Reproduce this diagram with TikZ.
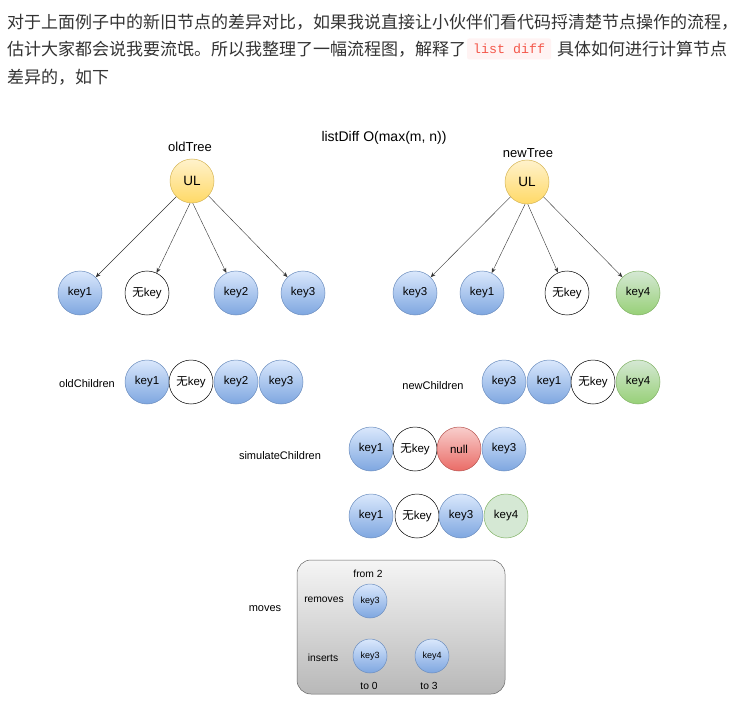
\documentclass[tikz,border=0pt]{standalone}
\usepackage{fontspec}
\setmainfont{Liberation Sans}
\newfontfamily\cjk{Noto Sans CJK SC}
\newfontfamily\codefont{Liberation Mono}
\usetikzlibrary{arrows.meta}
\definecolor{paratext}{HTML}{333333}
\definecolor{codebg}{HTML}{FFF3F3}
\definecolor{codered}{HTML}{F4584B}
\definecolor{bluetop}{HTML}{DAE8FC}
\definecolor{bluebot}{HTML}{7EA6E0}
\definecolor{blueline}{HTML}{6C8EBF}
\definecolor{yellowtop}{HTML}{FFF2CC}
\definecolor{yellowbot}{HTML}{FFD966}
\definecolor{yellowline}{HTML}{D6B656}
\definecolor{greentop}{HTML}{D5E8D4}
\definecolor{greenbot}{HTML}{97D077}
\definecolor{greenline}{HTML}{82B366}
\definecolor{redtop}{HTML}{F8CECC}
\definecolor{redbot}{HTML}{EA6B66}
\definecolor{redline}{HTML}{B85450}
\definecolor{graytop}{HTML}{F5F5F5}
\definecolor{graybot}{HTML}{B8B8B8}
\definecolor{grayline}{HTML}{666666}

\tikzset{
  para/.style={anchor=west, inner sep=0pt, text=paratext, font=\cjk\fontsize{17}{20}\selectfont},
  codespan/.style={anchor=west, fill=codebg, text=codered, rounded corners=2pt,
    inner xsep=6pt, minimum height=21pt, font=\codefont\fontsize{13.3}{15}\selectfont},
  treetitle/.style={inner sep=0pt, font=\fontsize{13}{15}\selectfont},
  rowlabel/.style={inner sep=0pt, font=\fontsize{11}{13}\selectfont},
  boxlabel/.style={inner sep=0pt, font=\fontsize{10.3}{12}\selectfont},
  keynode/.style={circle, minimum size=44pt, inner sep=0pt, line width=0.5pt,
    font=\fontsize{11.5}{13}\selectfont},
  bluekey/.style={keynode, draw=blueline, top color=bluetop, bottom color=bluebot},
  nokey/.style={keynode, draw=black, fill=white},
  greenkey/.style={keynode, draw=greenline, top color=greentop, bottom color=greenbot},
  palegreenkey/.style={keynode, draw=greenline, fill=greentop},
  nullkey/.style={keynode, draw=redline, top color=redtop, bottom color=redbot},
  ulnode/.style={keynode, draw=yellowline, top color=yellowtop, bottom color=yellowbot,
    font=\fontsize{13.5}{15}\selectfont},
  smallkey/.style={bluekey, minimum size=34pt, font=\fontsize{9}{11}\selectfont},
  treearrow/.style={draw=black!80, line width=0.4pt, -{Stealth[length=5pt,width=4pt]}},
  movesbox/.style={draw=grayline, line width=0.5pt, rounded corners=14pt,
    top color=graytop, bottom color=graybot}
}

\newcommand{\wu}{{\cjk 无}}

\begin{document}
\begin{tikzpicture}[x=1pt,y=-1pt]
  \useasboundingbox[fill=white] (0,0) rectangle (754,727);

  % paragraph above the picture
  \node[para] (line1) at (7,22) {对于上面例子中的新旧节点的差异对比，如果我说直接让小伙伴们看代码捋清楚节点操作的流程，};
  \node[para] (line2a) at (7,49) {估计大家都会说我要流氓。所以我整理了一幅流程图，解释了};
  \node[codespan] (code) at (467,49) {list diff};
  \node[para] (line2b) at (557,49) {具体如何进行计算节点};
  \node[para] (line3) at (7,77) {差异的，如下};

  \node[treetitle, font=\fontsize{14}{16}\selectfont] (difftitle) at (384,138) {listDiff O(max(m, n))};

  % old tree
  \node[treetitle] (oldlabel) at (190,147) {oldTree};
  \node[ulnode] (oldul) at (192,181) {UL};
  \node[bluekey] (ok1) at (80,293) {key1};
  \node[nokey] (oknone) at (147,293) {\wu key};
  \node[bluekey] (ok2) at (236,293) {key2};
  \node[bluekey] (ok3) at (303,293) {key3};
  \draw[treearrow] (oldul.225) -- (ok1);
  \draw[treearrow] (oldul.265) -- (oknone);
  \draw[treearrow] (oldul.272) -- (ok2);
  \draw[treearrow] (oldul.318) -- (ok3);

  % new tree
  \node[treetitle] (newlabel) at (528,153) {newTree};
  \node[ulnode] (newul) at (527,182) {UL};
  \node[bluekey] (nk3) at (415,293) {key3};
  \node[bluekey] (nk1) at (482,293) {key1};
  \node[nokey] (nknone) at (567,293) {\wu key};
  \node[greenkey] (nk4) at (638,293) {key4};
  \draw[treearrow] (newul.222) -- (nk3);
  \draw[treearrow] (newul.265) -- (nk1);
  \draw[treearrow] (newul.272) -- (nknone);
  \draw[treearrow] (newul.318) -- (nk4);

  % children lists
  \node[rowlabel] (oldchildlabel) at (87,384) {oldChildren};
  \node[bluekey] (oc1) at (147,382) {key1};
  \node[nokey] (ocnone) at (191,382) {\wu key};
  \node[bluekey] (oc2) at (236,382) {key2};
  \node[bluekey] (oc3) at (281,382) {key3};

  \node[rowlabel] (newchildlabel) at (433,386) {newChildren};
  \node[bluekey] (nc3) at (504,382) {key3};
  \node[bluekey] (nc1) at (549,382) {key1};
  \node[nokey] (ncnone) at (593,382) {\wu key};
  \node[greenkey] (nc4) at (638,382) {key4};

  % simulated children
  \node[rowlabel] (simlabel) at (280,456) {simulateChildren};
  \node[bluekey] (sc1) at (371,449) {key1};
  \node[nokey] (scnone) at (415,449) {\wu key};
  \node[nullkey] (scnull) at (459,449) {null};
  \node[bluekey] (sc3) at (504,449) {key3};

  \node[bluekey] (tc1) at (371,516) {key1};
  \node[nokey] (tcnone) at (417,516) {\wu key};
  \node[bluekey] (tc3) at (461,516) {key3};
  \node[palegreenkey] (tc4) at (506,516) {key4};

  % moves
  \node[rowlabel] (moveslabel) at (265,609) {moves};
  \draw[movesbox] (297,560) rectangle (505,694);
  \node[boxlabel] (fromlabel) at (368,574) {from 2};
  \node[boxlabel] (removelabel) at (324,600) {removes};
  \node[smallkey] (rm3) at (370,601) {key3};
  \node[boxlabel] (insertlabel) at (323,658) {inserts};
  \node[smallkey] (in3) at (370,656) {key3};
  \node[smallkey] (in4) at (432,656) {key4};
  \node[boxlabel] (tozero) at (369,686) {to 0};
  \node[boxlabel] (tothree) at (429,686) {to 3};
\end{tikzpicture}
\end{document}
